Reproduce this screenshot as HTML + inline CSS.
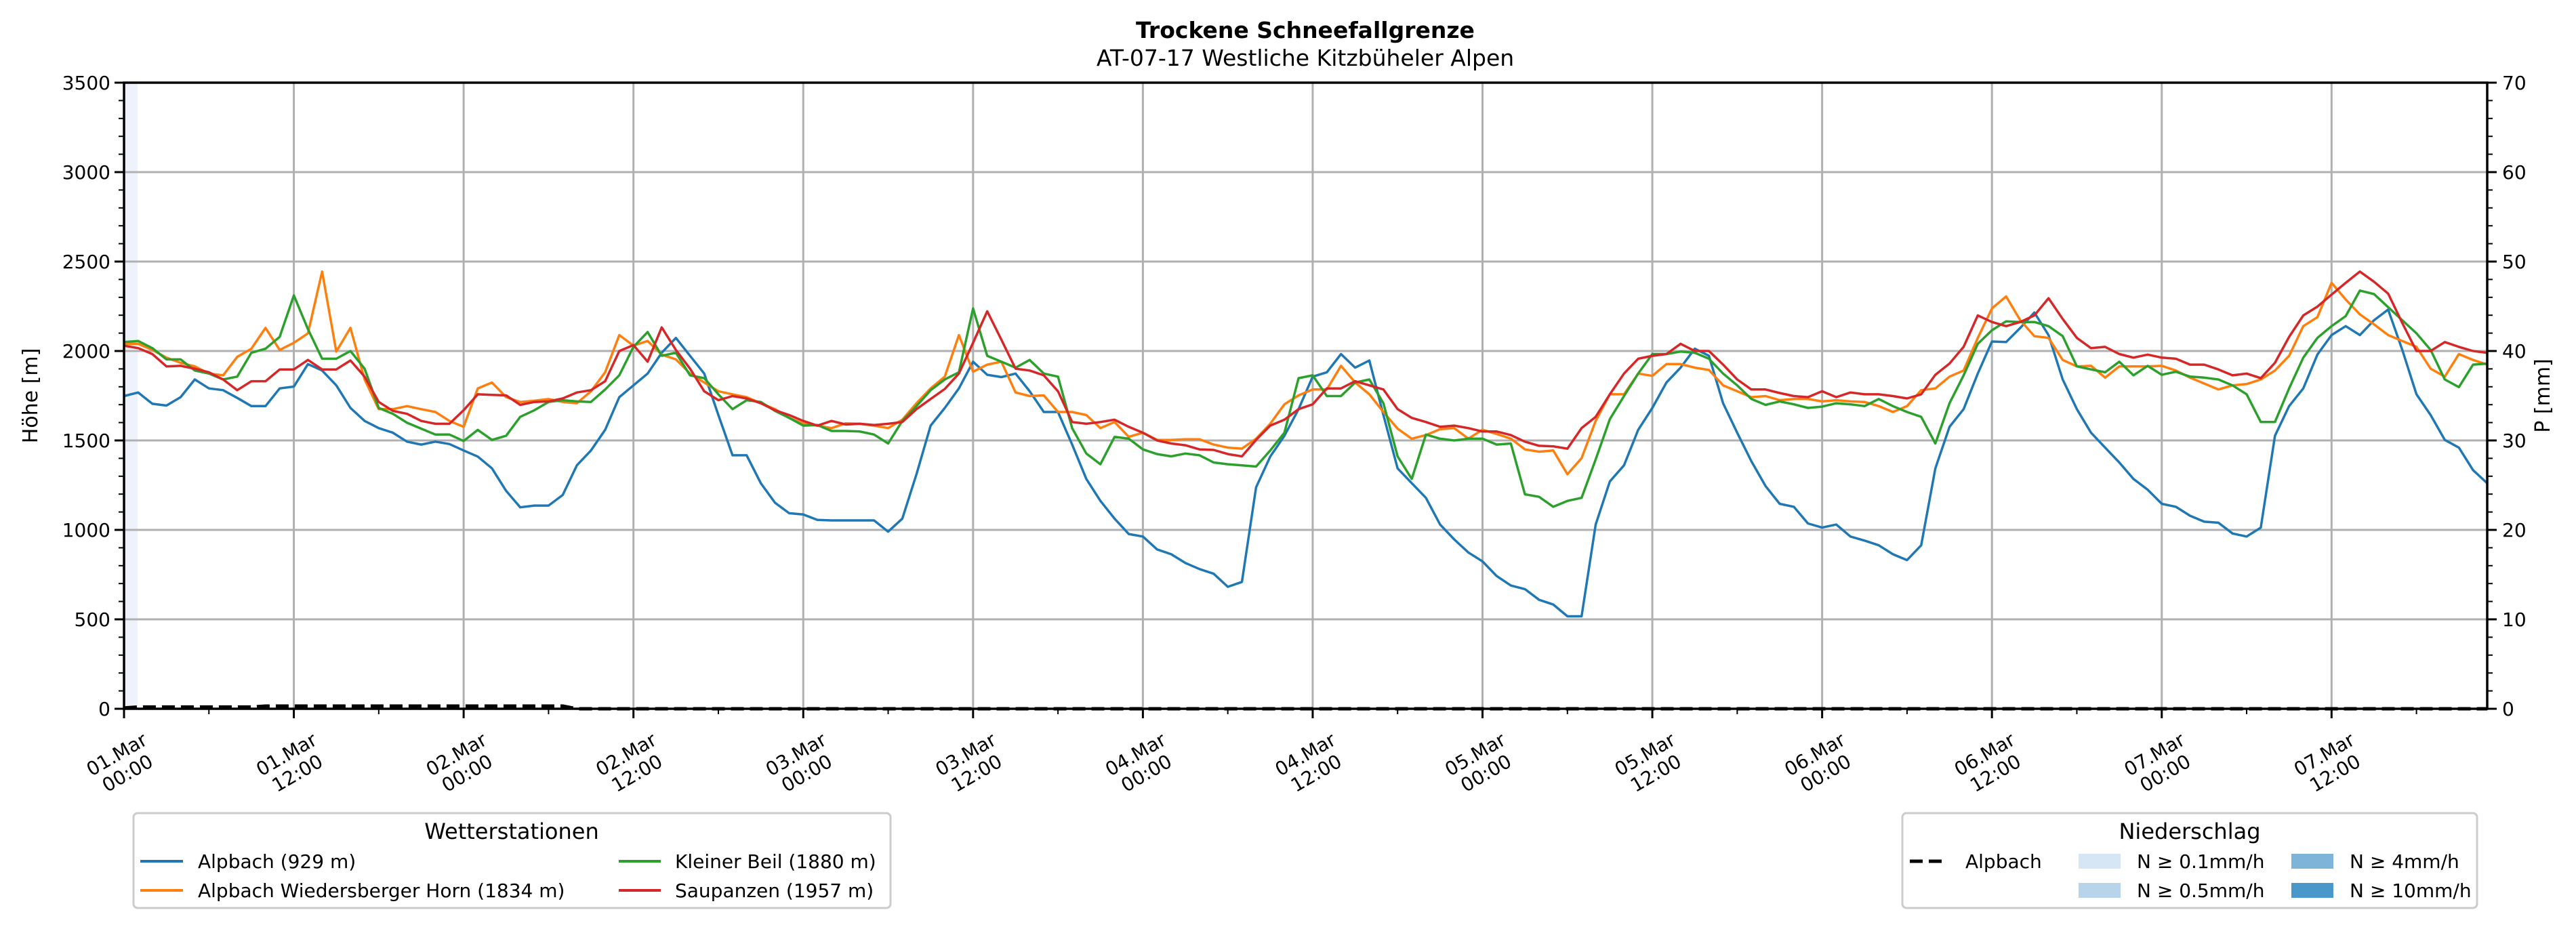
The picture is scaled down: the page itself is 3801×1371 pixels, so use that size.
<!DOCTYPE html>
<html><head><meta charset="utf-8"><style>
html,body{margin:0;padding:0;background:#fff}
svg{display:block;font-family:"DejaVu Sans","Liberation Sans",sans-serif}
</style></head><body>
<svg id="chart" width="3801" height="1371" viewBox="0 0 3801 1371" xmlns="http://www.w3.org/2000/svg">
<text x="1926" y="56" text-anchor="middle" font-size="33" font-weight="bold">Trockene Schneefallgrenze</text>
<text x="1926" y="97" text-anchor="middle" font-size="33">AT-07-17 Westliche Kitzbüheler Alpen</text>
<rect x="183" y="122" width="20" height="924" fill="#eef3fb"/>
<g id="grid"></g>
<g id="series"></g>
<g id="axes"></g>
<text transform="translate(55,584) rotate(-90)" text-anchor="middle" font-size="30">Höhe [m]</text>
<text transform="translate(3762,584) rotate(-90)" text-anchor="middle" font-size="30">P [mm]</text>

<g>
<rect x="197" y="1200" width="1117" height="140" rx="6" fill="#fff" stroke="#cccccc" stroke-width="3"/>
<text x="755" y="1238" text-anchor="middle" font-size="32">Wetterstationen</text>
<g><line x1="207" y1="1271" x2="270" y2="1271" stroke="#1f77b4" stroke-width="4"/><text x="292" y="1281" font-size="28">Alpbach (929 m)</text></g>
<g><line x1="207" y1="1314" x2="270" y2="1314" stroke="#ff7f0e" stroke-width="4"/><text x="292" y="1324" font-size="28">Alpbach Wiedersberger Horn (1834 m)</text></g>
<g><line x1="913" y1="1271" x2="975" y2="1271" stroke="#2ca02c" stroke-width="4"/><text x="996" y="1281" font-size="28">Kleiner Beil (1880 m)</text></g>
<g><line x1="913" y1="1314" x2="975" y2="1314" stroke="#d62728" stroke-width="4"/><text x="996" y="1324" font-size="28">Saupanzen (1957 m)</text></g>
</g>

<g>
<rect x="2807" y="1200" width="848" height="140" rx="6" fill="#fff" stroke="#cccccc" stroke-width="3"/>
<text x="3231" y="1238" text-anchor="middle" font-size="32">Niederschlag</text>
<g><line x1="2818" y1="1271" x2="2873" y2="1271" stroke="#000" stroke-width="5" stroke-dasharray="19,9"/><text x="2900" y="1281" font-size="28">Alpbach</text></g>
<g><rect x="3067" y="1260" width="62" height="22" fill="#d6e6f4"/><text x="3153" y="1281" font-size="28">N ≥ 0.1mm/h</text></g>
<g><rect x="3067" y="1303" width="62" height="22" fill="#b8d4ea"/><text x="3153" y="1324" font-size="28">N ≥ 0.5mm/h</text></g>
<g><rect x="3381" y="1260" width="62" height="22" fill="#7fb4d9"/><text x="3467" y="1281" font-size="28">N ≥ 4mm/h</text></g>
<g><rect x="3381" y="1303" width="62" height="22" fill="#4a97c9"/><text x="3467" y="1324" font-size="28">N ≥ 10mm/h</text></g>
</g>
</svg>
<script>
const alpbach = [1748,1768,1705,1695,1742,1841,1791,1781,1738,1692,
1692,1791,1801,1927,1891,1808,1682,1609,1569,1543,
1493,1477,1493,1480,1444,1410,1344,1218,1126,1136,
1136,1195,1361,1444,1559,1742,1808,1874,1990,2073,
1973,1874,1642,1417,1417,1261,1152,1093,1086,1056,
1053,1053,1053,1053,990,1063,1311,1583,1682,1791,
1940,1867,1854,1874,1775,1659,1659,1477,1285,1162,
1063,977,963,891,864,815,781,755,682,709,
1238,1410,1526,1675,1857,1881,1983,1907,1947,1642,
1344,1261,1179,1030,947,874,824,742,689,669,
609,583,517,517,1030,1271,1361,1559,1682,1824,
1907,2013,1973,1708,1543,1384,1245,1146,1129,1036,
1013,1030,963,940,914,864,831,914,1344,1576,
1675,1874,2053,2050,2129,2215,2089,1841,1675,1543,
1460,1377,1285,1225,1146,1129,1079,1046,1040,980,
963,1013,1526,1692,1791,1980,2089,2139,2089,2172,
2232,2006,1758,1642,1503,1460,1334,1261];
const wiedersberger = [2040,2040,2006,1963,1934,1914,1874,1864,1967,2013,
2129,2006,2046,2099,2444,1997,2129,1841,1675,1675,
1692,1675,1659,1609,1576,1791,1824,1742,1715,1722,
1732,1715,1708,1775,1881,2089,2030,2056,1980,1953,
1874,1824,1775,1758,1742,1708,1675,1626,1593,1583,
1569,1596,1593,1583,1569,1616,1708,1791,1857,2089,
1884,1924,1940,1768,1748,1752,1659,1659,1642,1569,
1603,1520,1543,1503,1503,1507,1507,1477,1460,1454,
1510,1593,1702,1752,1785,1785,1917,1824,1758,1659,
1566,1510,1530,1563,1569,1510,1560,1536,1510,1450,
1437,1444,1311,1401,1609,1758,1758,1874,1861,1927,
1927,1907,1894,1808,1775,1742,1748,1725,1732,1732,
1718,1725,1718,1715,1692,1659,1692,1781,1791,1857,
1891,2073,2238,2305,2172,2083,2073,1950,1914,1917,
1851,1914,1914,1914,1917,1891,1851,1818,1785,1808,
1815,1841,1891,1973,2139,2189,2381,2288,2205,2149,
2089,2056,2023,1901,1857,1983,1950,1924];
const kleinerBeil = [2050,2056,2016,1953,1953,1891,1874,1841,1857,1990,
2013,2079,2311,2122,1957,1957,2000,1901,1682,1649,
1599,1566,1533,1533,1497,1559,1503,1526,1632,1669,
1715,1725,1718,1715,1785,1864,2023,2106,1973,1990,
1864,1848,1758,1675,1725,1715,1665,1626,1583,1586,
1553,1553,1550,1533,1483,1609,1692,1781,1841,1881,
2238,1973,1940,1907,1950,1874,1857,1569,1427,1367,
1520,1510,1450,1424,1411,1427,1417,1377,1367,1361,
1354,1444,1543,1848,1864,1748,1748,1824,1841,1708,
1411,1285,1533,1510,1500,1510,1510,1477,1483,1199,
1185,1129,1162,1179,1394,1619,1748,1874,1983,1983,
1997,1990,1957,1874,1808,1732,1699,1718,1702,1682,
1689,1708,1702,1692,1732,1692,1659,1632,1483,1708,
1864,2040,2116,2166,2162,2162,2139,2083,1914,1897,
1881,1940,1864,1917,1867,1884,1857,1851,1841,1808,
1758,1603,1603,1791,1963,2073,2139,2195,2338,2318,
2245,2172,2099,2006,1841,1798,1924,1930];
const saupanzen = [2030,2016,1983,1914,1917,1901,1881,1841,1781,1831,
1831,1897,1897,1950,1897,1897,1947,1857,1715,1665,
1649,1609,1593,1593,1669,1758,1755,1752,1699,1715,
1718,1735,1768,1781,1831,2000,2033,1940,2132,2006,
1901,1775,1725,1748,1735,1708,1669,1642,1609,1583,
1609,1589,1593,1586,1593,1603,1675,1732,1788,1874,
2046,2222,2063,1901,1891,1864,1775,1603,1593,1603,
1616,1576,1543,1500,1483,1473,1450,1447,1424,1411,
1503,1583,1616,1675,1702,1791,1791,1831,1808,1785,
1675,1626,1603,1576,1583,1569,1550,1550,1530,1493,
1470,1467,1454,1569,1632,1758,1874,1957,1973,1983,
2040,2000,2000,1924,1841,1785,1785,1765,1748,1742,
1775,1742,1768,1758,1758,1748,1735,1758,1867,1930,
2023,2199,2162,2139,2162,2199,2295,2179,2073,2016,
2023,1983,1963,1980,1963,1957,1924,1924,1897,1864,
1874,1848,1934,2079,2199,2248,2315,2381,2444,2387,
2321,2156,2000,2000,2050,2023,2000,1990];
const precipAlpbach = [0.1,0.2,0.2,0.2,0.2,0.2,0.2,0.2,0.2,0.2,
0.3,0.3,0.3,0.3,0.3,0.3,0.3,0.3,0.3,0.3,
0.3,0.3,0.3,0.3,0.3,0.3,0.3,0.3,0.3,0.3,
0.3,0.3,0,0,0,0,0,0,0,0,
0,0,0,0,0,0,0,0,0,0,0,0,0,0,0,0,0,0,0,0,
0,0,0,0,0,0,0,0,0,0,0,0,0,0,0,0,0,0,0,0,
0,0,0,0,0,0,0,0,0,0,0,0,0,0,0,0,0,0,0,0,
0,0,0,0,0,0,0,0,0,0,0,0,0,0,0,0,0,0,0,0,
0,0,0,0,0,0,0,0,0,0,0,0,0,0,0,0,0,0,0,0,
0,0,0,0,0,0,0,0,0,0,0,0,0,0,0,0,0,0,0,0,
0,0,0,0,0,0,0,0];
const xTickLabels = ["01.Mar|00:00","01.Mar|12:00","02.Mar|00:00","02.Mar|12:00","03.Mar|00:00","03.Mar|12:00","04.Mar|00:00","04.Mar|12:00","05.Mar|00:00","05.Mar|12:00","06.Mar|00:00","06.Mar|12:00","07.Mar|00:00","07.Mar|12:00"];
const yTicks = [0,500,1000,1500,2000,2500,3000,3500];
const y2Ticks = [0,10,20,30,40,50,60,70];

const NS="http://www.w3.org/2000/svg";
const L=183,R=3670,T=122,B=1046, HMAX=167;
const xs=h=>L+(R-L)*h/HMAX;
const ys=v=>B-(B-T)*v/3500;
const ys2=v=>B-(B-T)*v/70;
function mk(tag,attrs,parent){const e=document.createElementNS(NS,tag);for(const k in attrs)e.setAttribute(k,attrs[k]);parent.appendChild(e);return e;}
const grid=document.getElementById('grid'), axes=document.getElementById('axes'), ser=document.getElementById('series');

yTicks.forEach(v=>{
  const g=mk('line',{x1:L,x2:R,y1:ys(v),y2:ys(v),stroke:'#b0b0b0','stroke-width':3},grid);
  
  
  const t=mk('text',{x:L-20,y:ys(v)+10,'text-anchor':'end','font-size':28},axes);
  
  
  t.textContent=v;
  mk('line',{x1:L-14,x2:L,y1:ys(v),y2:ys(v),stroke:'#000','stroke-width':3},axes);
});
for(let v=0;v<=3500;v+=100){ if(v%500) mk('line',{x1:L-8,x2:L,y1:ys(v),y2:ys(v),stroke:'#000','stroke-width':2},axes); }
y2Ticks.forEach(v=>{
  const t=mk('text',{x:R+22,y:ys2(v)+10,'font-size':28},axes);
  
  
  t.textContent=v;
  mk('line',{x1:R,x2:R+14,y1:ys2(v),y2:ys2(v),stroke:'#000','stroke-width':3},axes);
});
for(let v=0;v<=70;v+=2){ if(v%10) mk('line',{x1:R,x2:R+8,y1:ys2(v),y2:ys2(v),stroke:'#000','stroke-width':2},axes); }
xTickLabels.forEach((lab,i)=>{
  const h=i*12, x=xs(h);
  const g=mk('line',{x1:x,x2:x,y1:T,y2:B,stroke:'#b0b0b0','stroke-width':3},grid);
  
  
  mk('line',{x1:x,x2:x,y1:B,y2:B+14,stroke:'#000','stroke-width':3},axes);
  const parts=lab.split('|');
  const t=mk('text',{transform:`translate(${x-3},1127) rotate(-30)`,'text-anchor':'middle','font-size':28},axes);
  
  
  mk('tspan',{x:0,y:-6},t).textContent=parts[0];
  mk('tspan',{x:0,y:26},t).textContent=parts[1];
});
for(let h=6;h<=HMAX;h+=12) mk('line',{x1:xs(h),x2:xs(h),y1:B,y2:B+8,stroke:'#000','stroke-width':2},axes);
const frame=mk('rect',{x:L,y:T,width:R-L,height:B-T,fill:'none',stroke:'#000','stroke-width':3.5},axes);



function line(arr,color,name,yf,extra){
  const d=arr.map((v,i)=>(i?'L':'M')+xs(i).toFixed(1)+','+yf(v).toFixed(1)).join('');
  const p=mk('path',Object.assign({d:d,fill:'none',stroke:color,'stroke-width':3.5,'stroke-linejoin':'round'},extra||{}),ser);
  
  
}
line(alpbach,'#1f77b4','line-alpbach',ys);
line(wiedersberger,'#ff7f0e','line-wiedersberger-horn',ys);
line(kleinerBeil,'#2ca02c','line-kleiner-beil',ys);
line(saupanzen,'#d62728','line-saupanzen',ys);
line(precipAlpbach,'#000','line-precip-alpbach',ys2,{'stroke-width':5,'stroke-dasharray':'19,9'});
</script>
</body></html>
